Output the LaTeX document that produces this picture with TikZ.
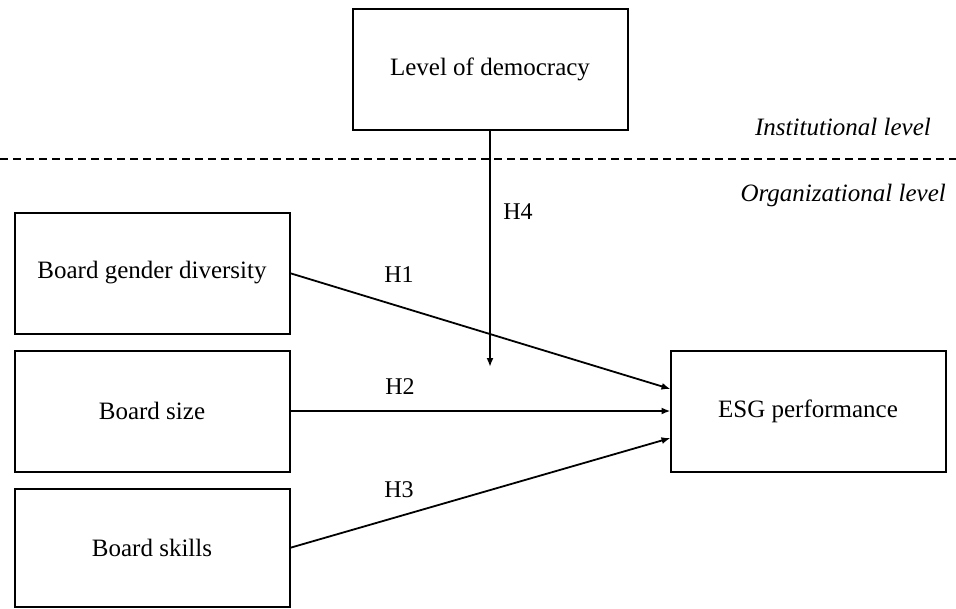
\documentclass[tikz,border=0pt]{standalone}
\usepackage{fontspec}
\setmainfont{Liberation Serif}
\usetikzlibrary{arrows.meta}
\begin{document}
\begin{tikzpicture}[x=1pt,y=-1pt,
  box/.style={draw,line width=2pt,rectangle,minimum width=275pt,minimum height=121pt,inner sep=0pt,outer sep=0pt,font=\fontsize{25}{30}\selectfont},
  conn/.style={line width=1.8pt,-{Latex[length=9pt,width=7pt]}},
  hlab/.style={font=\fontsize{24}{28}\selectfont,inner sep=0pt},
  lvl/.style={font=\fontsize{25}{30}\selectfont\itshape,inner sep=0pt}]
\useasboundingbox (0,0) rectangle (956,608);
\node[box] (dem) at (490,69) {Level of democracy};
\node[box] (gen) at (152,273) {Board gender diversity};
\node[box] (siz) at (152,411) {Board size};
\node[box,minimum height=118pt] (ski) at (152,548) {Board skills};
\node[box] (esg) at (808,411) {ESG performance};
\coordinate (dl) at (0,159);
\coordinate (dr) at (956,159);
\draw[line width=2.5pt,dash pattern=on 8pt off 5pt] (dl) -- (dr);
\node[lvl,anchor=east] (inst) at (931,127) {Institutional level};
\node[lvl,anchor=east] (org) at (946,195) {Organizational level};
\coordinate (mod) at (490,367);
\draw[conn] (dem.south) -- (mod);
\draw[conn] (gen.east) -- ([yshift=22pt]esg.west);
\draw[conn] (siz.east) -- (esg.west);
\draw[conn] (ski.east) -- ([yshift=-27pt]esg.west);
\node[hlab] (h1) at (399,275) {H1};
\node[hlab] (h2) at (400,387) {H2};
\node[hlab] (h3) at (399,490) {H3};
\node[hlab] (h4) at (518,212) {H4};
\end{tikzpicture}
\end{document}
